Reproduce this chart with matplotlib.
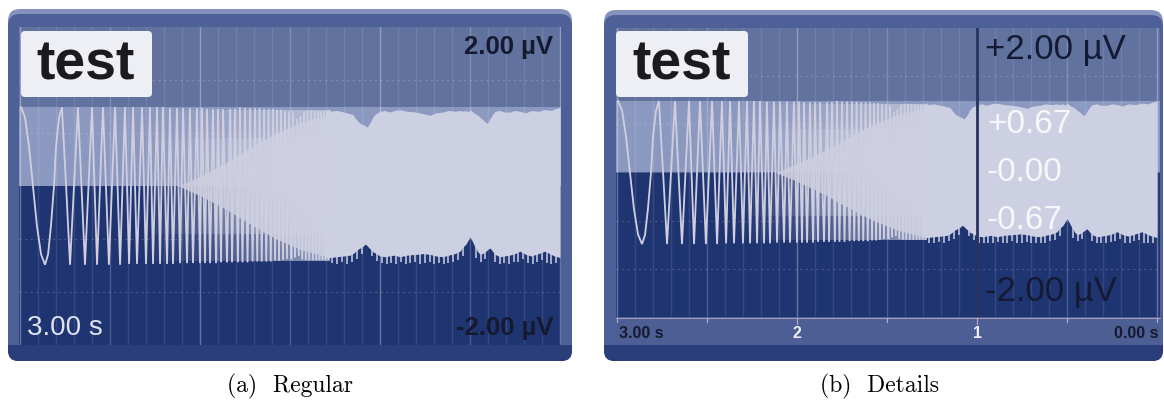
import matplotlib
matplotlib.use("Agg")
import matplotlib.pyplot as plt
from matplotlib.patches import FancyBboxPatch, Rectangle
import numpy as np

W, H = 1164, 407

# ---------------- data ----------------
duration = 3.0          # seconds shown
v_range = 2.0           # +/- microvolts shown

# first cycles of the chirp (time in s before "now", value in uV)
start_t = [2.994, 2.972, 2.950, 2.928, 2.906, 2.883, 2.861,
           2.844, 2.828, 2.811, 2.800, 2.783, 2.767, 2.744]
start_v = [0.99, 0.86, 0.50, 0.00, -0.50, -0.86, -0.99,
           -0.86, -0.50, 0.00, 0.50, 0.86, 0.99, 0.00]

# successive extrema of the resolved oscillations (alternating trough / peak)
osc_t = [2.722, 2.678, 2.639, 2.600, 2.572, 2.539, 2.506, 2.472, 2.444, 2.417,
         2.394, 2.372, 2.350, 2.322, 2.300, 2.278, 2.261, 2.239, 2.222, 2.206,
         2.183, 2.167, 2.150, 2.128, 2.111, 2.094, 2.072, 2.056, 2.039, 2.017,
         2.000, 1.989, 1.972, 1.961, 1.944, 1.928, 1.911, 1.900, 1.883, 1.872,
         1.850, 1.833, 1.822, 1.806, 1.789, 1.778, 1.764, 1.750, 1.736, 1.722,
         1.708, 1.694, 1.682, 1.669, 1.657, 1.644, 1.632, 1.619, 1.607, 1.594,
         1.583, 1.572, 1.561, 1.550, 1.539, 1.528, 1.517, 1.506, 1.494, 1.483,
         1.472, 1.461, 1.451, 1.442, 1.432, 1.422, 1.412, 1.403, 1.393, 1.383,
         1.373, 1.364, 1.354, 1.344, 1.336, 1.328, 1.319, 1.311, 1.303, 1.294,
         1.286, 1.278]
osc_v = [-0.99, 0.99, -0.99, 0.99, -0.99, 0.99, -0.99, 0.99, -0.99, 0.99,
         -0.98, 0.99, -0.98, 0.99, -0.98, 0.99, -0.98, 0.99, -0.98, 0.99,
         -0.98, 0.98, -0.98, 0.98, -0.97, 0.98, -0.97, 0.98, -0.97, 0.98,
         -0.97, 0.98, -0.97, 0.97, -0.97, 0.97, -0.97, 0.97, -0.96, 0.97,
         -0.96, 0.97, -0.96, 0.97, -0.96, 0.99, -0.96, 0.98, -0.96, 0.98,
         -0.95, 0.98, -0.95, 0.98, -0.95, 0.97, -0.95, 0.97, -0.95, 0.97,
         -0.94, 0.96, -0.94, 0.96, -0.93, 0.95, -0.92, 0.94, -0.92, 0.92,
         -0.90, 0.84, -0.88, 0.88, -0.92, 0.94, -0.93, 0.95, -0.93, 0.95,
         -0.93, 0.95, -0.93, 0.94, -0.93, 0.94, -0.93, 0.94, -0.93, 0.94,
         -0.93, 0.94]

# light core of the blurred transition region
core_t = [2.12, 2.00, 1.85, 1.72, 1.58, 1.44, 1.28]
core_half = [0.0, 0.12, 0.30, 0.48, 0.66, 0.80, 0.90]

# envelope of the dense (unresolved) part
dense_t = [1.278, 1.24, 1.20, 1.167, 1.150, 1.139, 1.125, 1.111, 1.095, 1.083, 1.072,
           1.060, 1.050, 1.039, 1.028, 1.00, 0.97, 0.95, 0.92, 0.889, 0.85, 0.80,
           0.76, 0.722, 0.69, 0.65, 0.62, 0.583, 0.556, 0.54, 0.522, 0.51, 0.500,
           0.49, 0.478, 0.456, 0.443, 0.430, 0.418, 0.406, 0.397, 0.389, 0.375,
           0.361, 0.333, 0.31, 0.28, 0.25, 0.222, 0.19, 0.16, 0.12, 0.083, 0.05,
           0.03, 0.0]
dense_up = [0.94, 0.95, 0.93, 0.91, 0.90, 0.86, 0.82, 0.79, 0.77, 0.76, 0.74,
            0.78, 0.82, 0.87, 0.90, 0.94, 0.95, 0.93, 0.95, 0.96, 0.94, 0.93,
            0.91, 0.89, 0.92, 0.93, 0.95, 0.94, 0.95, 0.94, 0.95, 0.93, 0.96,
            0.94, 0.92, 0.89, 0.86, 0.84, 0.81, 0.79, 0.81, 0.85, 0.90,
            0.94, 0.95, 0.93, 0.93, 0.95, 0.94, 0.92, 0.95, 0.94, 0.96, 0.95,
            0.97, 0.99]
dense_lo = [-0.90, -0.89, -0.88, -0.87, -0.85, -0.83, -0.80, -0.78, -0.76, -0.73, -0.75,
            -0.78, -0.80, -0.83, -0.84, -0.88, -0.89, -0.88, -0.87, -0.89, -0.87, -0.86,
            -0.85, -0.86, -0.88, -0.89, -0.87, -0.85, -0.82, -0.77, -0.73, -0.68, -0.64,
            -0.68, -0.74, -0.83, -0.86, -0.85, -0.83, -0.81, -0.79, -0.78, -0.82,
            -0.86, -0.89, -0.88, -0.87, -0.85, -0.82, -0.86, -0.88, -0.85, -0.82, -0.86,
            -0.88, -0.90]

# thin light spikes hanging below the dense part
spike_t = [1.265, 1.24, 1.212, 1.185, 1.158, 1.13, 1.10, 1.045, 1.015, 0.99, 0.963,
           0.94, 0.912, 0.886, 0.858, 0.832, 0.806, 0.778, 0.752, 0.724, 0.70, 0.674,
           0.647, 0.62, 0.594, 0.566, 0.541, 0.466, 0.44, 0.414, 0.36, 0.336, 0.309,
           0.284, 0.257, 0.231, 0.205, 0.178, 0.151, 0.126, 0.10, 0.074, 0.049, 0.024]
spike_lo = [-0.97, -0.98, -0.96, -0.98, -0.95, -0.92, -0.86, -0.88, -0.94, -0.97, -0.98,
            -0.97, -0.98, -0.96, -0.98, -0.97, -0.95, -0.98, -0.97, -0.96, -0.98, -0.97,
            -0.98, -0.97, -0.95, -0.93, -0.88, -0.90, -0.95, -0.92, -0.95, -0.98, -0.97,
            -0.98, -0.96, -0.95, -0.92, -0.97, -0.98, -0.95, -0.93, -0.97, -0.98, -0.97]

# opacity of the blur that fills the transition region (style)
blur_t = [2.32, 2.15, 2.00, 1.85, 1.70, 1.55, 1.42, 1.278]
blur_a = [0.0, 0.10, 0.22, 0.36, 0.52, 0.68, 0.84, 1.0]

x_ticks = [3.0, 2.0, 1.0, 0.0]
x_tick_labels = ["3.00 s", "2", "1", "0.00 s"]
detail_vals = [0.67, 0.0, -0.67]
detail_labels = ["+0.67", "-0.00", "-0.67"]

# ---------------- style ----------------
FRAME_LIGHT = "#8592bd"
FRAME = "#4d6097"
FRAME_DARK = "#2a3e7c"
TOP_BG = "#61729f"
BAND_BG = "#8b98c0"
LOW_BG = "#1f3572"
SIG = "#cdd0e2"
FONT = "Liberation Sans"

fig = plt.figure(figsize=(W / 100, H / 100), dpi=100)
fig.patch.set_facecolor("white")
bg = fig.add_axes([0, 0, 1, 1], zorder=0)
bg.set_xlim(0, W)
bg.set_ylim(H, 0)
bg.axis("off")


def rbox(ax, x0, y0, x1, y1, fc, r=10, z=1, ec="none", lw=0):
    p = FancyBboxPatch((x0, y0), x1 - x0, y1 - y0,
                       boxstyle=f"round,pad=0,rounding_size={r}",
                       fc=fc, ec=ec, lw=lw, zorder=z)
    ax.add_patch(p)


def frame(x0, y0, x1, y1):
    rbox(bg, x0, y0, x1, y1, FRAME_LIGHT, r=12, z=1)
    rbox(bg, x0, y0 + 5, x1, y1, FRAME, r=12, z=2)
    rbox(bg, x0, y1 - 16, x1, y1, FRAME_DARK, r=10, z=3)
    bg.add_patch(Rectangle((x0, y1 - 16), x1 - x0, 8, fc=FRAME_DARK, ec="none", zorder=3))


def plot_panel(px0, py0, px1, py1, t_left, t_right, detail):
    ax = fig.add_axes([px0 / W, 1 - py1 / H, (px1 - px0) / W, (py1 - py0) / H], zorder=1)
    ax.set_xlim(t_left, t_right)
    ax.set_ylim(-v_range, v_range)
    ax.axis("off")
    # background bands
    ax.axhspan(0, v_range, color=TOP_BG, lw=0, zorder=0)
    ax.axhspan(0, 0.99, color=BAND_BG, lw=0, zorder=0.1)
    ax.axhspan(-v_range, 0, color=LOW_BG, lw=0, zorder=0.2)
    # grid
    for i in range(31):
        t = i * 0.1
        a = 0.32 if i % 10 == 0 else (0.2 if i % 5 == 0 else 0.1)
        ax.axvline(t, color="white", alpha=a, lw=1.0, zorder=0.5)
    for v in [-4 / 3, -2 / 3, 2 / 3, 4 / 3]:
        ax.axhline(v, color="white", alpha=0.18, lw=0.8, ls=(0, (2, 3)), zorder=0.5)
    # signal
    ax.fill_between(core_t, [-h for h in core_half], core_half, color=SIG, lw=0,
                    alpha=0.85, zorder=2)
    ax.fill_between(dense_t, dense_lo, dense_up, color=SIG, lw=0, zorder=2)
    ax.vlines(spike_t, [-0.7] * len(spike_t), spike_lo, color=SIG, lw=1.1, zorder=2)
    ax.plot(start_t + osc_t, start_v + osc_v, color=SIG, lw=1.3, zorder=3,
            solid_joinstyle="miter")
    ax.plot(start_t + osc_t, start_v + osc_v, color="#e6c6d2", lw=0.3, alpha=0.6, zorder=3.1)
    # blur over the transition: thin strips whose opacity ramps up to the dense part
    edges = np.linspace(blur_t[0], blur_t[-1], 41)
    for a0, a1 in zip(edges[:-1], edges[1:]):
        am = float(np.interp(-(a0 + a1) / 2, [-b for b in blur_t], blur_a))
        ax.fill_between([a0, a1 - 0.0005], [-0.94, -0.94], [0.95, 0.95], color=SIG,
                        alpha=am * 0.7, lw=0, zorder=3.4)
        ax.fill_between([a0, a1 - 0.0005], [-0.6, -0.6], [0.6, 0.6], color=SIG,
                        alpha=min(1.0, am * 0.8), lw=0, zorder=3.5)
    ax.fill_between([1.30, 1.27], [-0.90, -0.90], [0.94, 0.94], color=SIG, lw=0, zorder=3.6)
    if detail:
        ax.axvline(1.0, color="#27335e", lw=2.0, zorder=4)
    return ax


fg = fig.add_axes([0, 0, 1, 1], zorder=5)
fg.set_xlim(0, W)
fg.set_ylim(H, 0)
fg.axis("off")

# ---------- panel (a) ----------
frame(8, 9, 572, 361)
axA = plot_panel(19, 27, 561, 345, 3.0 + 1 / 180, -1 / 180, detail=False)
rbox(fg, 21, 31, 152, 97, "#eeeff4", r=4, z=6)
fg.text(86, 66, "test", fontsize=40, fontweight="bold", family=FONT,
        color="#1b1b1d", ha="center", va="center", zorder=7)
fg.text(553, 47, "2.00 µV", fontsize=18.5, fontweight="bold", family=FONT, color="#151a30",
        ha="right", va="center", zorder=7)
fg.text(553, 328, "-2.00 µV", fontsize=18.5, fontweight="bold", family=FONT, color="#151a30",
        ha="right", va="center", zorder=7)
fg.text(27, 328, "3.00 s", fontsize=20, family=FONT, color="#dfe2ef",
        ha="left", va="center", zorder=7)

# ---------- panel (b) ----------
frame(604, 10, 1163, 361)
bg.add_patch(Rectangle((616, 317), 544, 28, fc="#4d5e95", ec="none", zorder=4))
bg.plot([616, 1160], [317.5, 317.5], color="#c9b7c9", lw=0.8, alpha=0.7, zorder=5)
axB = plot_panel(616, 28, 1160, 317, 3.0 + 1 / 180, -3 / 180, detail=True)
for v, lab in zip(detail_vals, detail_labels):
    axB.text(0.945, v, lab, color="white", alpha=0.85, fontsize=24,
             family=FONT, va="center", ha="left", zorder=6)
rbox(fg, 616, 31, 748, 97, "#eeeff4", r=4, z=6)
fg.text(682, 66, "test", fontsize=40, fontweight="bold", family=FONT,
        color="#1b1b1d", ha="center", va="center", zorder=7)
fg.text(985, 50, "+2.00 µV", fontsize=25, family=FONT, color="#141a33",
        ha="left", va="center", zorder=7)
fg.text(985, 292, "-2.00 µV", fontsize=25, family=FONT, color="#141a33",
        ha="left", va="center", zorder=7)
# time axis of panel (b)
for i in range(7):
    t = i * 0.5
    xp = 617 + (duration - t) * 180
    ln = 6 if t in (1.0, 2.0) else 4
    bg.plot([xp, xp], [318, 318 + ln], color="#d6c2d2", lw=0.8, alpha=0.8, zorder=5)
for t, lab in zip(x_ticks, x_tick_labels):
    xp = 617 + (duration - t) * 180
    if lab.endswith("s"):
        ha = "left" if t == duration else "right"
        xp = 619 if t == duration else 1158
        col = "#161a2c"
    else:
        ha = "center"
        col = "#f0eef4"
    bg.text(xp, 333, lab, fontsize=11.5, fontweight="bold", family=FONT, color=col,
            ha=ha, va="center", zorder=6)

# captions
fg.text(290, 386, "(a)  Regular", fontsize=17, family="cmr10", ha="center", va="center")
fg.text(880, 386, "(b)  Details", fontsize=17, family="cmr10", ha="center", va="center")

fig.savefig("out.png", dpi=100, facecolor="white")
